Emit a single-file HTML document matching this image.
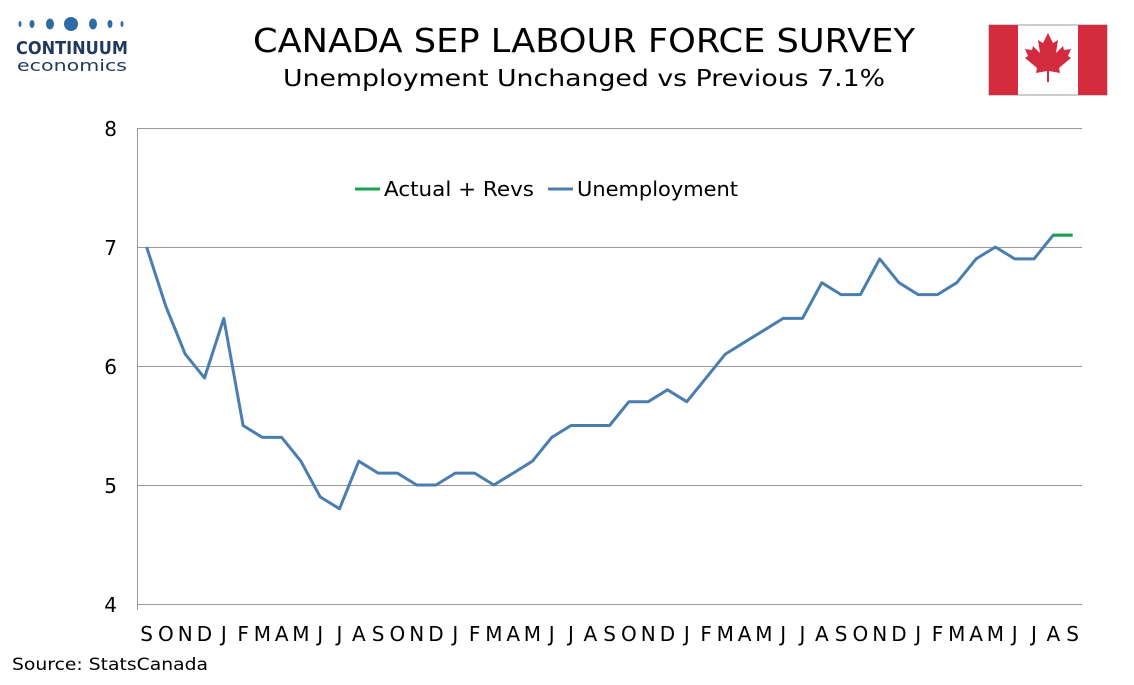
<!DOCTYPE html>
<html><head><meta charset="utf-8"><style>
html,body{margin:0;padding:0;background:#fff;}
svg text{font-family:"DejaVu Sans","Liberation Sans",sans-serif;}
</style></head><body>
<svg width="1134" height="680" viewBox="0 0 1134 680" xmlns="http://www.w3.org/2000/svg">
<rect width="1134" height="680" fill="#fff"/>
<g fill="#2e6da4">
<ellipse cx="20" cy="24" rx="1.5" ry="3"/><ellipse cx="32" cy="24" rx="2.5" ry="4"/><ellipse cx="50" cy="24" rx="4" ry="5.5"/>
<circle cx="71" cy="24" r="7"/><ellipse cx="93" cy="24" rx="4" ry="5.5"/><ellipse cx="110" cy="24" rx="2.5" ry="4"/><ellipse cx="122" cy="24" rx="1.5" ry="3"/>
</g>
<text x="16" y="54" font-size="18" font-weight="bold" fill="#1f3a5a" textLength="112" lengthAdjust="spacingAndGlyphs">CONTINUUM</text>
<text x="17" y="71" font-size="16" fill="#1f3a5a" textLength="110" lengthAdjust="spacingAndGlyphs">economics</text>
<text x="253" y="52" font-size="33" fill="#000" textLength="662" lengthAdjust="spacingAndGlyphs">CANADA SEP LABOUR FORCE SURVEY</text>
<text x="283" y="86" font-size="23" fill="#000" textLength="602" lengthAdjust="spacingAndGlyphs">Unemployment Unchanged vs Previous 7.1%</text>
<rect x="989" y="25" width="118" height="70" fill="#fff" stroke="#999"/>
<rect x="989" y="25" width="29" height="70" fill="#d52b3e"/>
<rect x="1078" y="25" width="29" height="70" fill="#d52b3e"/>
<path d="M1048 33 l5 10 5-3 -2 13 7-7 1 4 7-1 -3 7 3 2 -12 10 1 5 -11-2 v11 h-2 v-11 l-11 2 1-5 -12-10 3-2 -3-7 7 1 1-4 7 7 -2-13 5 3z" fill="#d52b3e"/>
<g stroke="#999" stroke-width="1">
<line x1="137" y1="128.5" x2="1082" y2="128.5"/>
<line x1="137" y1="247.5" x2="1082" y2="247.5"/>
<line x1="137" y1="366.5" x2="1082" y2="366.5"/>
<line x1="137" y1="485.5" x2="1082" y2="485.5"/>
<line x1="137" y1="604.5" x2="1082" y2="604.5"/>
<line x1="137.5" y1="128" x2="137.5" y2="610"/>
</g>
<g font-size="20" text-anchor="end" fill="#000">
<text x="117" y="136">8</text><text x="117" y="255">7</text><text x="117" y="374">6</text><text x="117" y="493">5</text><text x="117" y="612">4</text>
</g>
<g font-size="20" text-anchor="middle" fill="#000">
<text x="146.6" y="641">S</text><text x="165.9" y="641">O</text><text x="185.2" y="641">N</text><text x="204.5" y="641">D</text><text x="223.8" y="641">J</text><text x="243.1" y="641">F</text><text x="262.4" y="641">M</text><text x="281.7" y="641">A</text><text x="300.9" y="641">M</text><text x="320.2" y="641">J</text><text x="339.5" y="641">J</text><text x="358.8" y="641">A</text>
<text x="378.1" y="641">S</text><text x="397.4" y="641">O</text><text x="416.7" y="641">N</text><text x="436.0" y="641">D</text><text x="455.3" y="641">J</text><text x="474.6" y="641">F</text><text x="493.9" y="641">M</text><text x="513.2" y="641">A</text><text x="532.4" y="641">M</text><text x="551.7" y="641">J</text><text x="571.0" y="641">J</text><text x="590.3" y="641">A</text>
<text x="609.6" y="641">S</text><text x="628.9" y="641">O</text><text x="648.2" y="641">N</text><text x="667.5" y="641">D</text><text x="686.8" y="641">J</text><text x="706.1" y="641">F</text><text x="725.3" y="641">M</text><text x="744.6" y="641">A</text><text x="763.9" y="641">M</text><text x="783.2" y="641">J</text><text x="802.5" y="641">J</text><text x="821.8" y="641">A</text>
<text x="841.1" y="641">S</text><text x="860.4" y="641">O</text><text x="879.7" y="641">N</text><text x="899.0" y="641">D</text><text x="918.2" y="641">J</text><text x="937.5" y="641">F</text><text x="956.8" y="641">M</text><text x="976.1" y="641">A</text><text x="995.4" y="641">M</text><text x="1014.7" y="641">J</text><text x="1034.0" y="641">J</text><text x="1053.3" y="641">A</text>
<text x="1072.6" y="641">S</text>
</g>
<polyline fill="none" stroke="#4a7eb0" stroke-width="3" stroke-linejoin="round" points="146.6,247 165.9,306.5 185.2,354.1 204.5,377.9 223.8,318.4 243.1,425.5 262.4,437.4 281.7,437.4 300.9,461.2 320.2,496.9 339.5,508.8 358.8,461.2 378.1,473.1 397.4,473.1 416.7,485 436.0,485 455.3,473.1 474.6,473.1 493.9,485 513.2,473.1 532.4,461.2 551.7,437.4 571.0,425.5 590.3,425.5 609.6,425.5 628.9,401.7 648.2,401.7 667.5,389.8 686.8,401.7 706.1,377.9 725.3,354.1 744.6,342.2 763.9,330.3 783.2,318.4 802.5,318.4 821.8,282.7 841.1,294.6 860.4,294.6 879.7,258.9 899.0,282.7 918.2,294.6 937.5,294.6 956.8,282.7 976.1,258.9 995.4,247 1014.7,258.9 1034.0,258.9 1053.3,235.1 1072.6,235.1"/>
<polyline fill="none" stroke="#1aa34a" stroke-width="3" points="1053.3,235.1 1072.6,235.1"/>
<line x1="355" y1="189" x2="380" y2="189" stroke="#1aa34a" stroke-width="3"/>
<text x="384" y="196" font-size="20" textLength="150" lengthAdjust="spacingAndGlyphs">Actual + Revs</text>
<line x1="548" y1="189" x2="573" y2="189" stroke="#4a7eb0" stroke-width="3"/>
<text x="577" y="196" font-size="20" textLength="161" lengthAdjust="spacingAndGlyphs">Unemployment</text>
<text x="12" y="670" font-size="17" textLength="196" lengthAdjust="spacingAndGlyphs">Source: StatsCanada</text>
</svg>
</body></html>
